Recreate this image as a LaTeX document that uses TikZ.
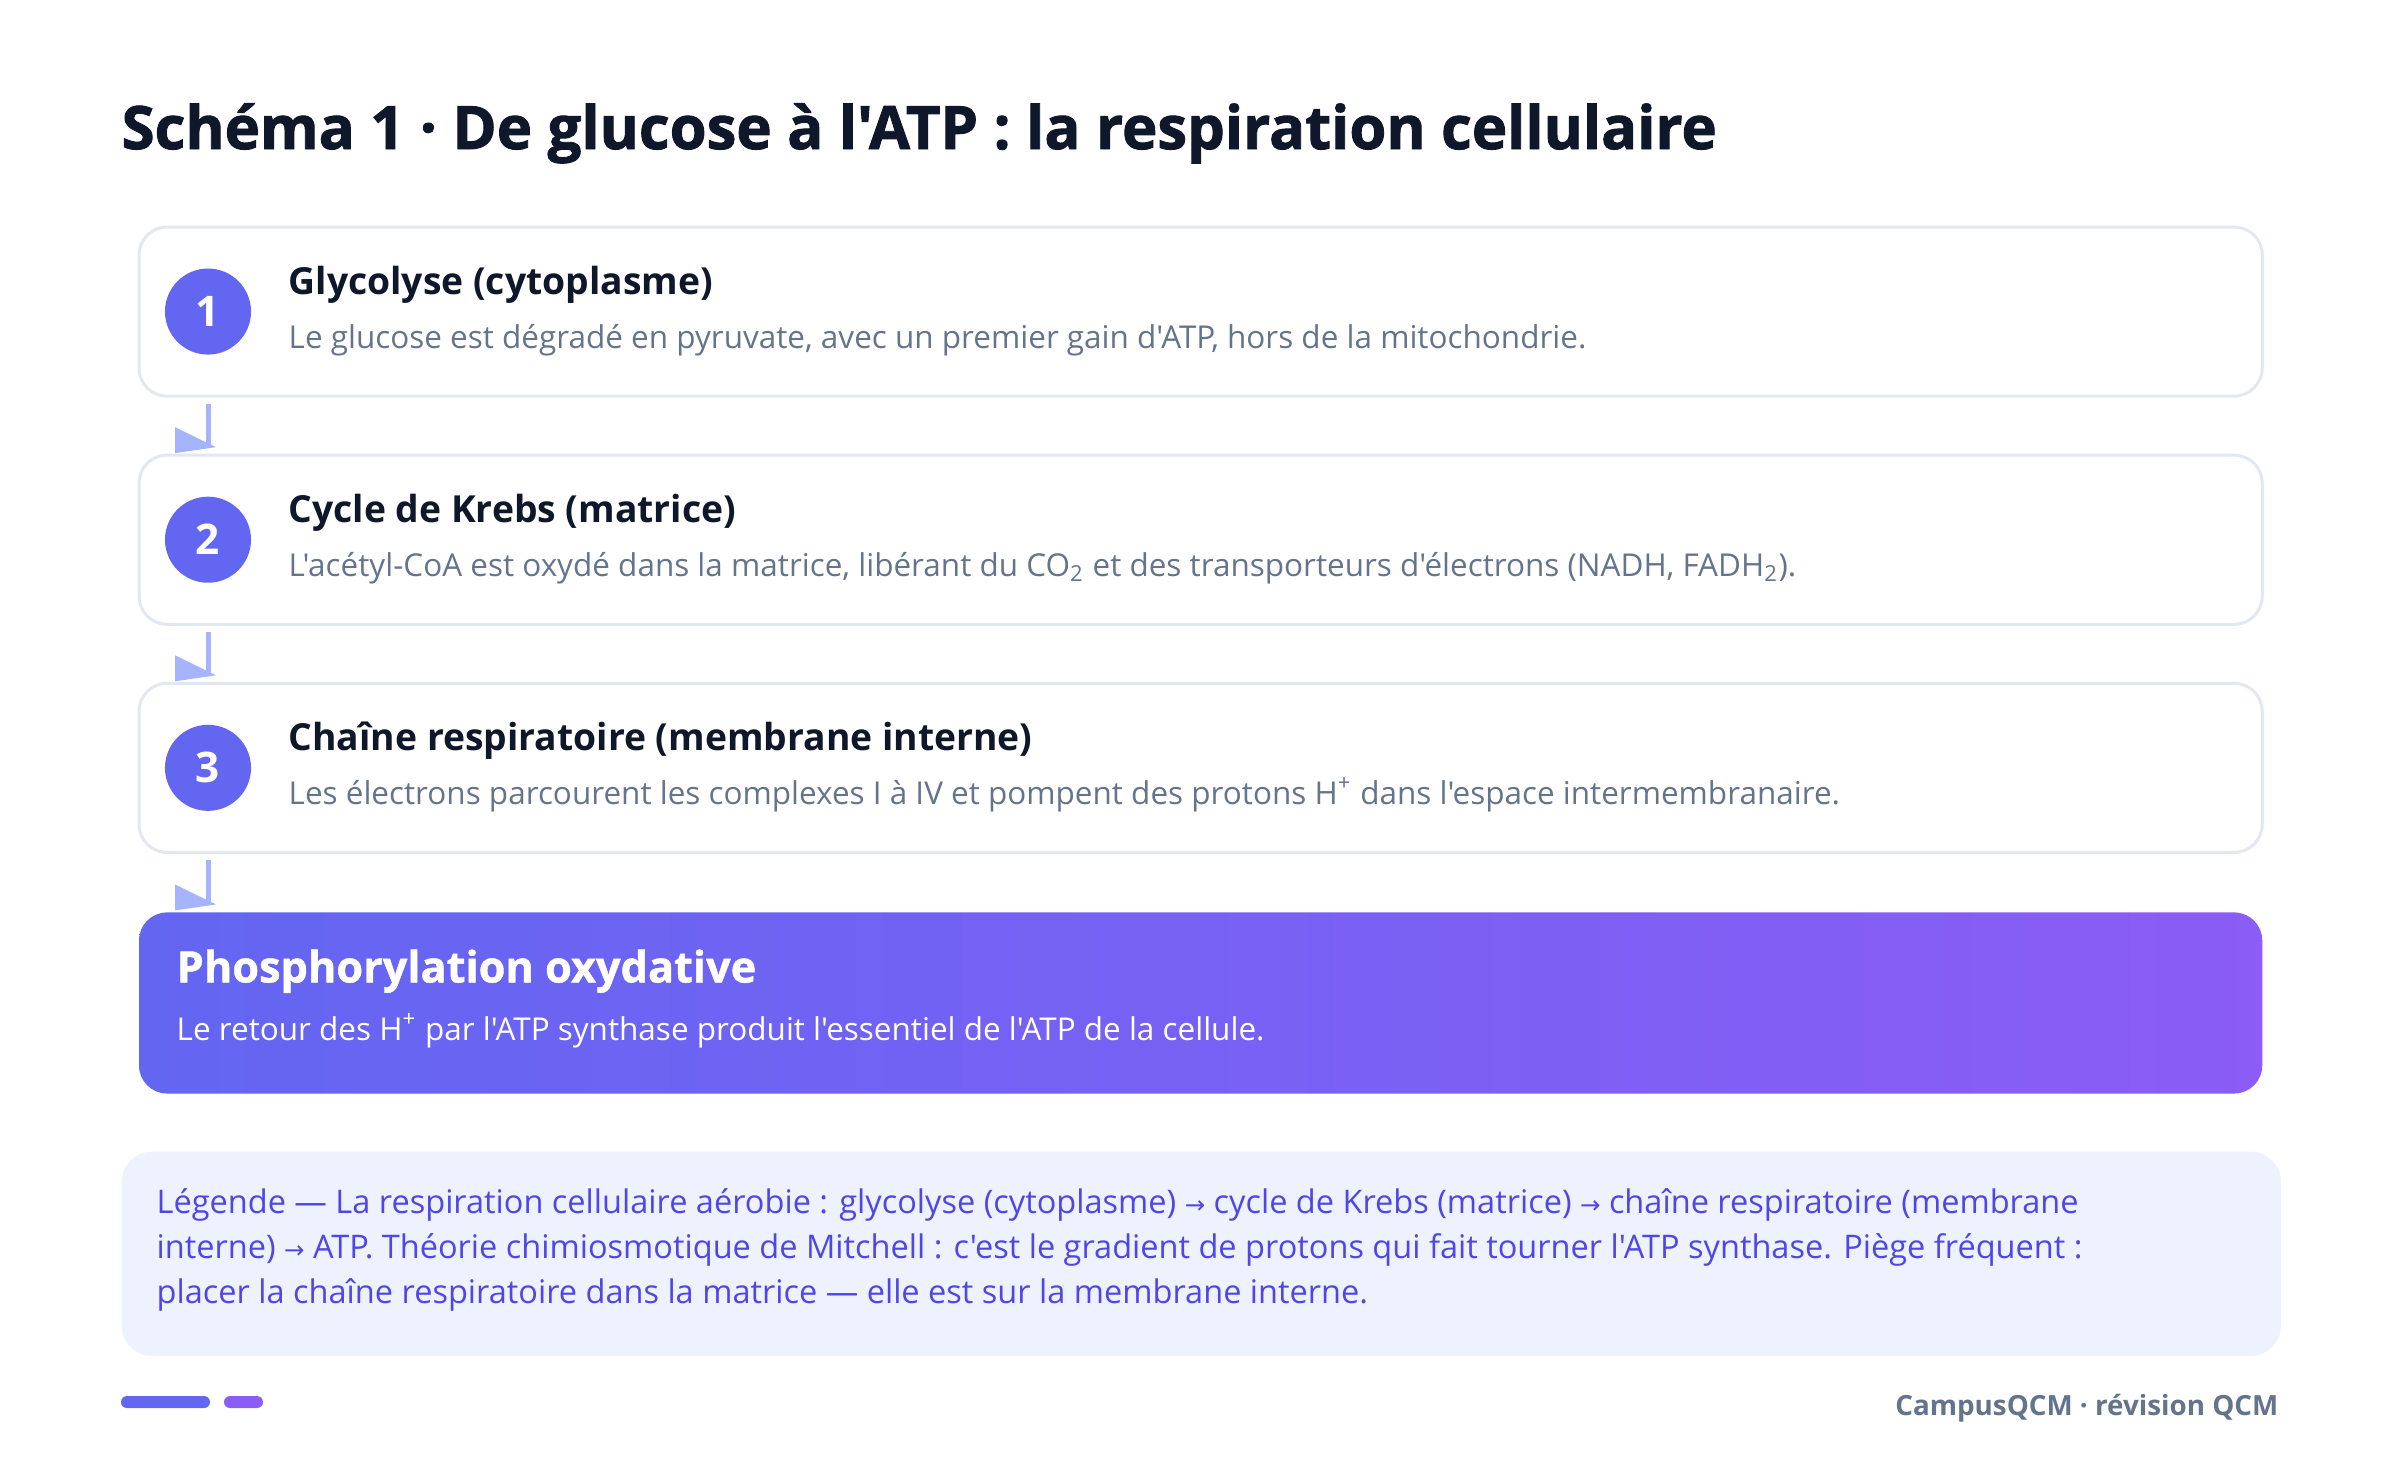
\documentclass[tikz,border=0pt]{standalone}
\usepackage{fontspec}
\setmainfont{Open Sans}[Ligatures=TeXOff]
\newfontfamily\symfont{DejaVu Sans}
\usetikzlibrary{calc, positioning}
\definecolor{indigo}{HTML}{6366F1}
\definecolor{violet}{HTML}{8B5CF6}
\definecolor{arrowc}{HTML}{A5B4FC}
\definecolor{border}{HTML}{E2E8F0}
\definecolor{ink}{HTML}{0F172A}
\definecolor{slate}{HTML}{64748B}
\definecolor{legfill}{HTML}{EEF2FF}
\definecolor{legtext}{HTML}{4F46E5}
\newcommand{\rarr}{{\symfont\scalebox{0.75}{→}}}
\tikzstyle{Step}=[draw=border, line width=0.03cm, fill=white, rounded corners=0.28cm, minimum width=21.22cm, minimum height=1.69cm, inner sep=0pt, outer sep=0pt]
\tikzstyle{Final}=[rounded corners=0.28cm, left color=indigo, right color=violet, minimum width=21.22cm, minimum height=1.81cm, inner sep=0pt, outer sep=0pt]
\tikzstyle{Num}=[circle, fill=indigo, minimum size=0.86cm, inner sep=0pt, text=white, font=\bfseries\fontsize{12}{14}\selectfont]
\tikzstyle{Title}=[anchor=base west, inner sep=0pt, text=ink, font=\bfseries\fontsize{10.6}{13}\selectfont]
\tikzstyle{Desc}=[anchor=base west, inner sep=0pt, text=slate, font=\fontsize{8.95}{11}\selectfont]
\tikzstyle{Flow}=[draw=arrowc, line width=0.05cm]
\tikzstyle{Tip}=[fill=arrowc]

\begin{document}
\begin{tikzpicture}[x=0.01cm, y=-0.01cm]
		\useasboundingbox[fill=white] (0,0) rectangle (2400,1465);
		\node[anchor=base west, inner sep=0pt, text=ink, font=\bfseries\fontsize{17}{20}\selectfont\addfontfeature{FakeBold=1.5}] (head) at (121,149) {Schéma 1 · De glucose à l'ATP : la respiration cellulaire};
		% les trois étapes
		\node[Step, anchor=north west] (b1) at (139,227) {};
		\node[Step, below=0.59cm of b1] (b2) {};
		\node[Step, below=0.59cm of b2] (b3) {};
		\node[Final, below=0.60cm of b3] (b4) {};
		\node[Num] (n1) at ($(b1.west)+(69,0)$) {1};
		\node[Num] (n2) at ($(b2.west)+(69,0)$) {2};
		\node[Num] (n3) at ($(b3.west)+(69,0)$) {3};
		\node[Title] (t1) at ($(b1.north west)+(149,67)$) {Glycolyse (cytoplasme)};
		\node[Desc] (d1) at ($(b1.north west)+(149,121)$) {Le glucose est dégradé en pyruvate, avec un premier gain d'ATP, hors de la mitochondrie.};
		\node[Title] (t2) at ($(b2.north west)+(149,67)$) {Cycle de Krebs (matrice)};
		\node[Desc] (d2) at ($(b2.north west)+(149,121)$) {L'acétyl-CoA est oxydé dans la matrice, libérant du CO\textsubscript{2} et des transporteurs d'électrons (NADH, FADH\textsubscript{2}).};
		\node[Title] (t3) at ($(b3.north west)+(149,67)$) {Chaîne respiratoire (membrane interne)};
		\node[Desc] (d3) at ($(b3.north west)+(149,121)$) {Les électrons parcourent les complexes I à IV et pompent des protons H\textsuperscript{+} dans l'espace intermembranaire.};
		\node[Title, text=white, font=\bfseries\fontsize{12.3}{14}\selectfont\addfontfeature{FakeBold=1}] (t4) at ($(b4.north west)+(37,70)$) {Phosphorylation oxydative};
		\node[Desc, text=white] (d4) at ($(b4.north west)+(37,128)$) {Le retour des H\textsuperscript{+} par l'ATP synthase produit l'essentiel de l'ATP de la cellule.};
		% fleches entre les etapes
		\foreach \a/\b in {b1/b2, b2/b3, b3/b4} {
			\draw[Flow, shorten <=0.08cm, shorten >=0.07cm] (n1 |- \a.south) -- (n1 |- \b.north);
			\fill[Tip] ($(n1 |- \b.north)+(-33,-28)$) -- ($(n1 |- \b.north)+(-33,-2)$) -- ($(n1 |- \b.north)+(8,-8)$) -- cycle;
		}
		% legende
		\node[fill=legfill, rounded corners=0.3cm, minimum width=21.58cm, minimum height=2.04cm, anchor=north west] (leg) at (121,1151) {};
		\node[anchor=base west, inner sep=0pt, align=left, text=legtext, font=\fontsize{9.25}{12.66}\selectfont] (lt) at (156,1303) {Légende — La respiration cellulaire aérobie : glycolyse (cytoplasme) \rarr{} cycle de Krebs (matrice) \rarr{} chaîne respiratoire (membrane\\interne) \rarr{} ATP. Théorie chimiosmotique de Mitchell : c'est le gradient de protons qui fait tourner l'ATP synthase. Piège fréquent :\\placer la chaîne respiratoire dans la matrice — elle est sur la membrane interne.};
		% pied de page
		\fill[indigo, rounded corners=0.06cm] (121,1396) rectangle (210,1408);
		\fill[violet, rounded corners=0.06cm] (224,1396) rectangle (263,1408);
		\node[anchor=base east, inner sep=0pt, text=slate, font=\bfseries\fontsize{7.9}{9}\selectfont] (foot) at (2279,1415) {CampusQCM · révision QCM};
\end{tikzpicture}
\end{document}
